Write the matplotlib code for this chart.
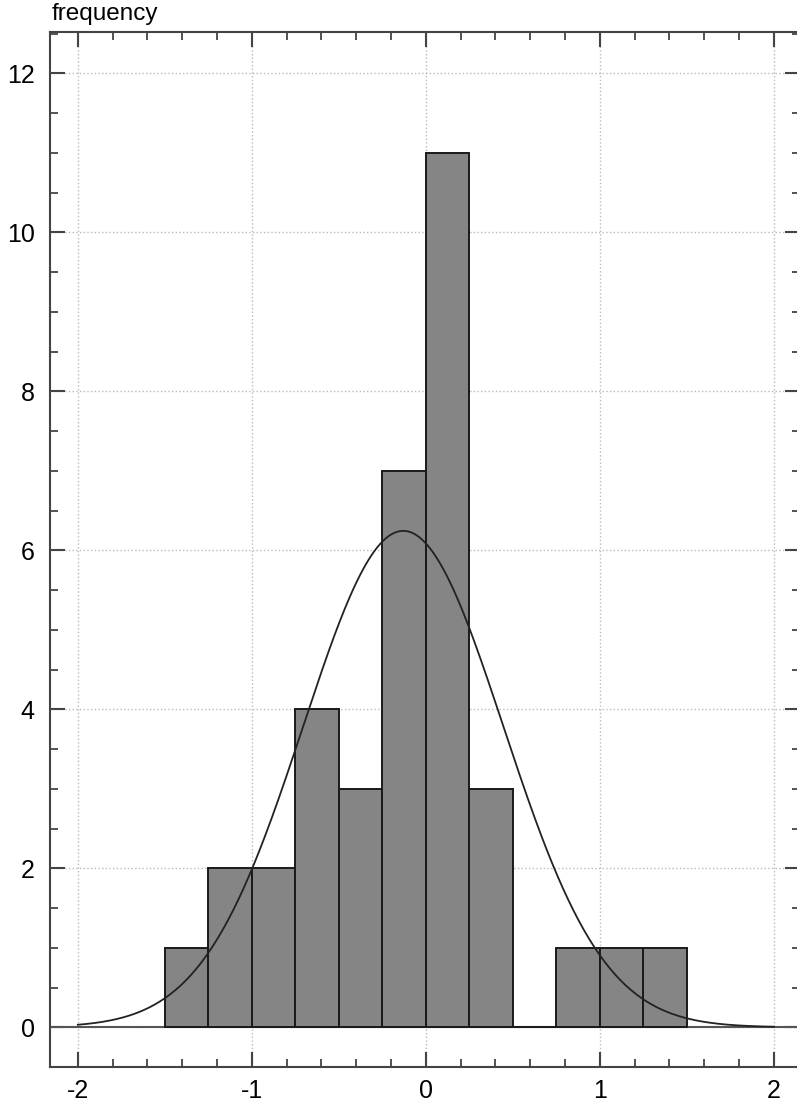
import matplotlib.pyplot as plt
import numpy as np
from matplotlib.ticker import MultipleLocator

plt.rcParams['font.family'] = ['Liberation Sans', 'DejaVu Sans']
plt.rcParams['axes.unicode_minus'] = False

# Histogram bins (edges, width 0.25) and counts
bin_edges = [-1.5, -1.25, -1.0, -0.75, -0.5, -0.25, 0.0, 0.25, 0.5, 0.75, 1.0, 1.25, 1.5]
counts = [1, 2, 2, 4, 3, 7, 11, 3, 0, 1, 1, 1]

# Fitted normal curve parameters
fit_mean = -0.13
fit_sd = 0.575

fig = plt.figure(figsize=(7.97, 11.03), dpi=100)
ax = fig.add_axes([50 / 797, 1 - 1067 / 1103, 750 / 797, 1035 / 1103])

widths = np.diff(bin_edges)
ax.bar(bin_edges[:-1], counts, width=widths, align='edge',
       color='#858585', edgecolor='#1a1a1a', linewidth=1.4, zorder=3)

# normal curve scaled to histogram area
n = sum(counts)
xs = np.linspace(-2, 2, 400)
pdf = np.exp(-0.5 * ((xs - fit_mean) / fit_sd) ** 2) / (fit_sd * np.sqrt(2 * np.pi))
ax.plot(xs, n * widths[0] * pdf, color='#222222', linewidth=1.3, zorder=4)

ax.axhline(0, color='#555555', linewidth=1.5, zorder=2)

ax.set_xlim(-2.16, 2.15)
ax.set_ylim(-0.5, 12.52)
ax.xaxis.set_major_locator(MultipleLocator(1))
ax.xaxis.set_minor_locator(MultipleLocator(0.2))
ax.yaxis.set_major_locator(MultipleLocator(2))
ax.yaxis.set_minor_locator(MultipleLocator(0.5))
ax.grid(True, which='major', color='#bbbbbb', linestyle=':', linewidth=1.0, zorder=0)
ax.set_axisbelow(True)

ax.tick_params(which='both', direction='in', top=True, right=True,
               colors='#444444', labelcolor='black', labelsize=18)
ax.tick_params(which='major', length=11, width=1.5)
ax.tick_params(axis='x', which='major', pad=9)
ax.tick_params(axis='y', which='major', pad=11)
ax.tick_params(which='minor', length=6, width=1.3)
for s in ax.spines.values():
    s.set_color('#444444')
    s.set_linewidth(1.5)

ax.set_yticks([0, 2, 4, 6, 8, 10, 12])
ax.set_xticks([-2, -1, 0, 1, 2])

fig.text(52 / 797, 1 - 14 / 1103, 'frequency', fontsize=17.5, va='center', ha='left')

fig.savefig('out.png', dpi=100)
